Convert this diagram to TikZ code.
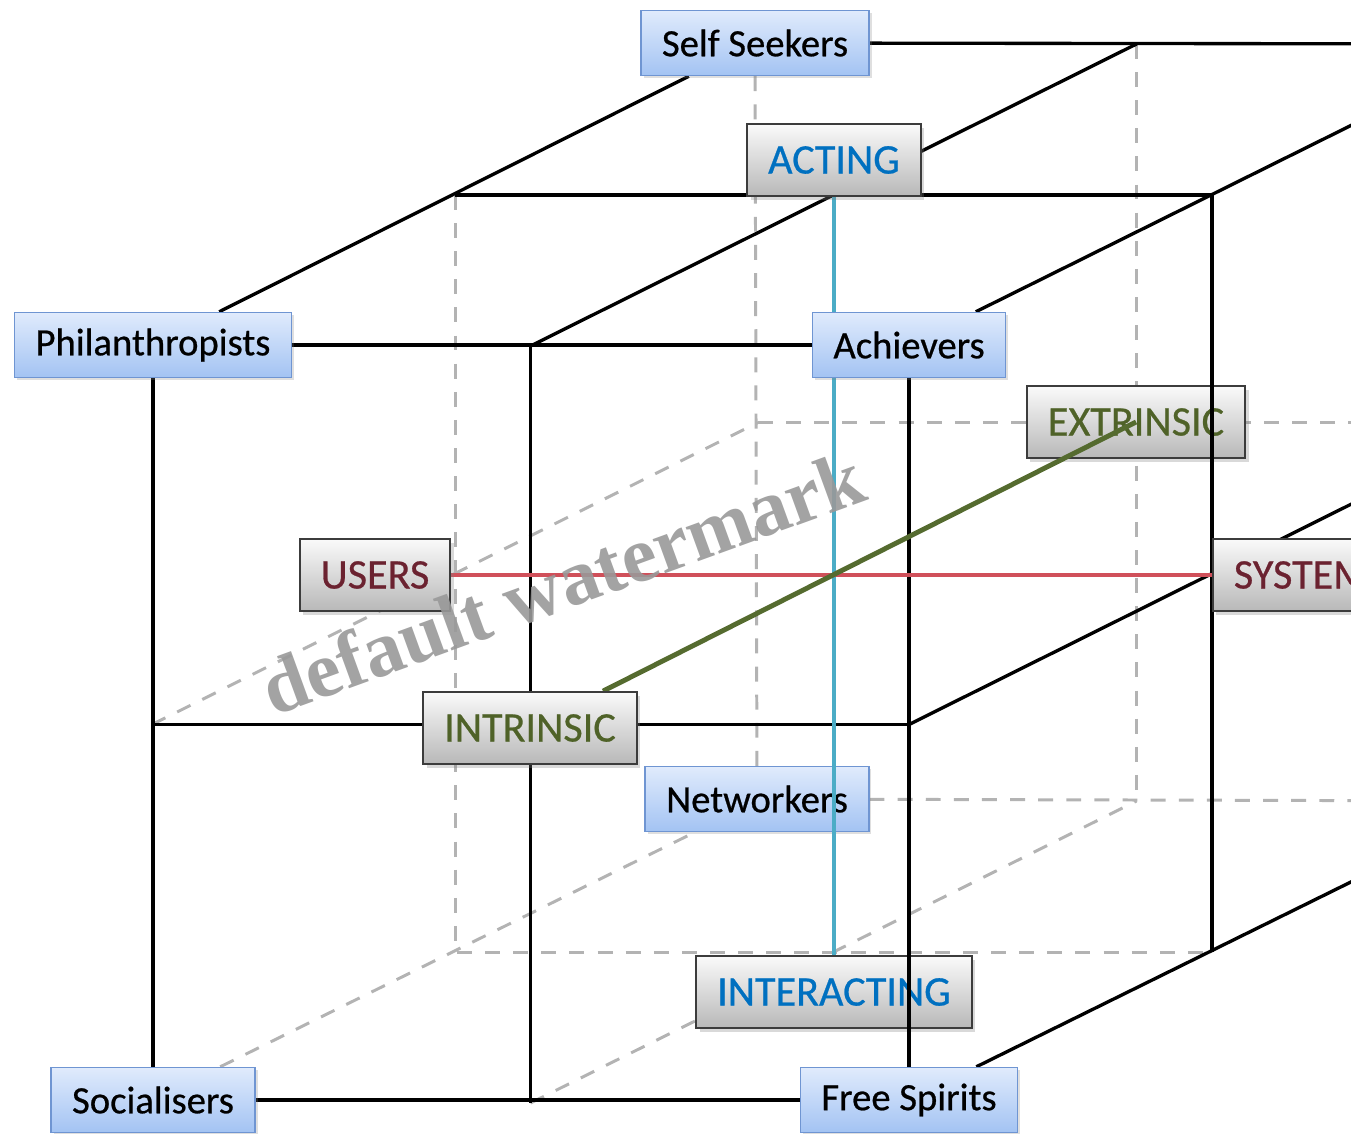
\documentclass[tikz,border=0pt]{standalone}
\usepackage{fontspec}
\setmainfont{Carlito}
\newfontfamily\labelfont{Carlito}[FakeBold=0.6]
\newfontfamily\wmfont{Liberation Serif}
\usetikzlibrary{shadows}

\definecolor{bluetop}{HTML}{E0EBFC}
\definecolor{bluebot}{HTML}{A3C3F3}
\definecolor{blueedge}{HTML}{6F95D2}
\definecolor{graytop}{HTML}{FAFAFA}
\definecolor{graybot}{HTML}{B8B8B8}
\definecolor{grayedge}{HTML}{3C3C3C}
\definecolor{actblue}{HTML}{0070C0}
\definecolor{usered}{HTML}{6B2230}
\definecolor{motgreen}{HTML}{4F6228}
\definecolor{axcyan}{HTML}{4BACC6}
\definecolor{axred}{HTML}{D0505A}
\definecolor{axgreen}{HTML}{556B2F}
\definecolor{hiddengray}{HTML}{B3B3B3}

\pgfdeclarelayer{hiddenlayer}
\pgfdeclarelayer{backlayer}
\pgfdeclarelayer{edgelayer}
\pgfsetlayers{hiddenlayer,backlayer,edgelayer,main}

\tikzset{
    usertype/.style={draw=blueedge, line width=0.85pt, top color=bluetop, bottom color=bluebot,
        minimum height=1.3cm, inner xsep=0.42cm, font=\labelfont\fontsize{22}{26}\selectfont,
        drop shadow={opacity=0.25, shadow xshift=1.5pt, shadow yshift=-1.5pt}},
    axisbox/.style={draw=grayedge, line width=1pt, top color=graytop, bottom color=graybot,
        minimum height=1.44cm, inner xsep=0.42cm, font=\labelfont\fontsize{24}{28}\selectfont,
        drop shadow={opacity=0.3, shadow xshift=2pt, shadow yshift=-2pt}},
    cubeedge/.style={black, line width=1.9pt},
    hiddenedge/.style={hiddengray, line width=1.7pt, dash pattern=on 8.5pt off 7.5pt},
}

\begin{document}
\begin{tikzpicture}[x=0.02cm, y=-0.02cm]
    \useasboundingbox (0,0) rectangle (1351,1133);

    % corners of the 2x2x2 cube: v<column><row><depth>
    \foreach \i in {0, 1, 2} {
        \foreach \j in {0, 1, 2} {
            \foreach \k in {0, 1, 2} {
                \coordinate (v\i\j\k) at ({152+378.5*\i+303*\k}, {346+378.5*\j-151*\k});
            }
        }
    }

    \node (self) at (755,43) [usertype] {Self Seekers};
    \node (phil) at (153,345) [usertype] {Philanthropists};
    \node (ach) at (909,345) [usertype] {Achievers};
    \node (soc) at (153,1100) [usertype] {Socialisers};
    \node (free) at (909,1100) [usertype] {Free Spirits};

    \node (act) at (834,160) [axisbox, text=actblue] {ACTING};
    \node (users) at (375,575) [axisbox, text=usered] {USERS};
    \node (sys) at (1212,575) [axisbox, text=usered, anchor=west] {SYSTEMS};
    \node (intr) at (530,728) [axisbox, text=motgreen] {INTRINSIC};

    \begin{pgfonlayer}{backlayer}
        \node (net) at (757,799) [usertype] {Networkers};
        \node (extr) at (1136,422) [axisbox, text=motgreen] {EXTRINSIC};
        \node (inter) at (834,992) [axisbox, text=actblue] {INTERACTING};
    \end{pgfonlayer}

    \begin{pgfonlayer}{hiddenlayer}
        \draw[hiddenedge] (self) -- (net);
        \draw[hiddenedge] (v102) -- (v122);
        \draw[hiddenedge] (v012) -- (v212);
        \draw[hiddenedge] (net) -- (v222);
        \draw[hiddenedge] (v001) -- (v021) -- (v221);
        \draw[hiddenedge] (v010) -- (v012);
        \draw[hiddenedge] (soc) -- (v022);
        \draw[hiddenedge] (v120) -- (v122);
    \end{pgfonlayer}

    \begin{pgfonlayer}{edgelayer}
        \draw[cubeedge] (phil) -- (ach);
        \draw[cubeedge] (phil) -- (soc) -- (free) -- (ach);
        \draw[cubeedge] (v100) -- (v120);
        \draw[cubeedge] (v010) -- (v210);
        \draw[cubeedge] (phil) -- (self) -- (v202);
        \draw[cubeedge] (v100) -- (v102);
        \draw[cubeedge] (ach) -- (v202);
        \draw[cubeedge] (v001) -- (v201) -- (v221);
        \draw[cubeedge] (v210) -- (v212);
        \draw[cubeedge] (free) -- (v222);

        \draw[axcyan, line width=2.8pt] (act) -- (inter);
        \draw[axred, line width=2.8pt] (users) -- (sys);
        \draw[axgreen, line width=2.8pt] (intr) -- (extr.center);
    \end{pgfonlayer}

    \node (mark) at (562,582) [rotate=20, text=black!40, text opacity=0.9,
        font=\wmfont\bfseries\fontsize{45}{50}\selectfont] {default watermark};
\end{tikzpicture}
\end{document}
